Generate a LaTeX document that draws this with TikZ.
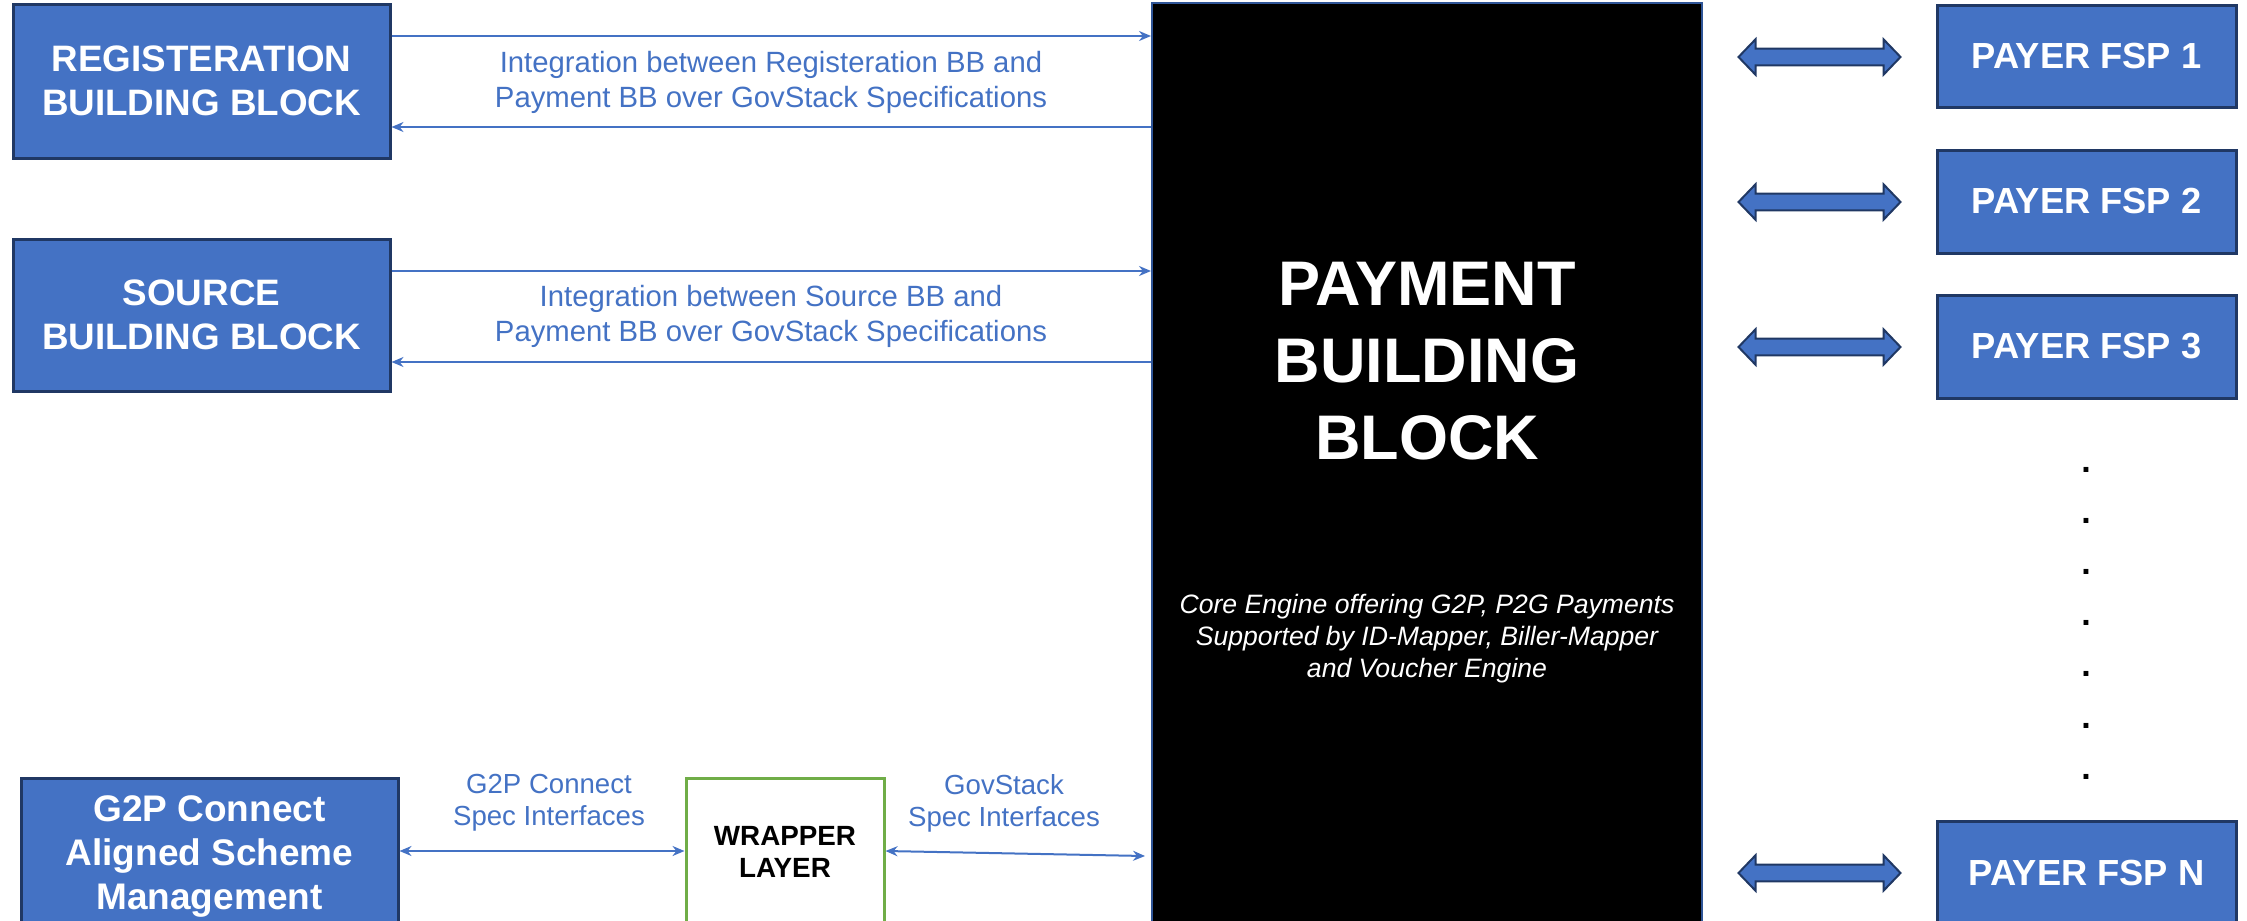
\documentclass[tikz,border=0pt]{standalone}
\usepackage{fontspec}
\setmainfont{Liberation Sans}
\usetikzlibrary{arrows.meta}
\definecolor{bbblue}{HTML}{4472C4}
\definecolor{bbdark}{HTML}{203864}
\definecolor{paybd}{HTML}{2F5597}
\definecolor{wrapgreen}{HTML}{70AD47}
\tikzset{
  bluebox/.style={draw=bbdark, line width=3pt, fill=bbblue, text=white, align=center, inner sep=0pt},
  bbfont/.style={font=\bfseries\fontsize{36.8}{44}\selectfont},
  fspfont/.style={font=\bfseries\fontsize{36.3}{42}\selectfont},
  lbl/.style={text=bbblue, align=center, inner sep=0pt, font=\fontsize{29.3}{35}\selectfont},
  slbl/.style={text=bbblue, align=center, inner sep=0pt, font=\fontsize{27.6}{32}\selectfont},
  conn/.style={draw=bbblue, line width=2pt},
  toR/.style={conn, -{Stealth[length=12pt,width=10pt]}},
  both/.style={conn, {Stealth[length=12pt,width=10pt]}-{Stealth[length=12pt,width=10pt]}},
  dotnode/.style={inner sep=0pt, font=\bfseries\fontsize{34}{34}\selectfont},
  dblarr/.pic={
    \draw[fill=bbblue, draw=bbdark, line width=2pt, line join=miter]
      (-81,0) -- (-64,-17.7) -- (-64,-8.3) -- (64,-8.3) -- (64,-17.7) -- (81,0)
      -- (64,17.7) -- (64,8.3) -- (-64,8.3) -- (-64,17.7) -- cycle;
  }
}
\begin{document}
\begin{tikzpicture}[x=1pt,y=-1pt]
\path[use as bounding box] (0,0) rectangle (2247,921);
\clip (0,0) rectangle (2247,921);

% central payment block
\node[draw=paybd, fill=black, line width=2pt, minimum width=550pt, minimum height=927pt, inner sep=0pt] (pay) at (1427,466.5) {};
\node[text=white, align=center, inner sep=0pt, font=\bfseries\fontsize{63}{77}\selectfont] (ptitle) at (1427,361) {PAYMENT\\BUILDING\\BLOCK};
\node[text=white, align=center, inner sep=0pt, font=\itshape\fontsize{26.6}{32}\selectfont] (psub) at (1427,639) {Core Engine offering G2P, P2G Payments\\Supported by ID-Mapper, Biller-Mapper\\and Voucher Engine};

% left building blocks
\node[bluebox, bbfont, minimum width=377pt, minimum height=154pt] (reg) at (201.5,81) {REGISTERATION\\BUILDING BLOCK};
\node[bluebox, bbfont, minimum width=377pt, minimum height=152pt] (src) at (201.5,315) {SOURCE\\BUILDING BLOCK};
\node[bluebox, font=\bfseries\fontsize{37}{44}\selectfont, minimum width=377pt, minimum height=150pt, text depth=0pt] (g2p) at (209.5,853) {G2P Connect\\Aligned Scheme\\Management};
\node[draw=wrapgreen, line width=3pt, fill=white, text=black, align=center, inner sep=0pt, font=\bfseries\fontsize{27.8}{32}\selectfont, minimum width=198pt, minimum height=148pt] (wrap) at (785,852) {WRAPPER\\LAYER};

% labels
\node[lbl] (lreg) at (771,82.5) {Integration between Registeration BB and\\Payment BB over GovStack Specifications};
\node[lbl] (lsrc) at (771,316) {Integration between Source BB and\\Payment BB over GovStack Specifications};
\node[slbl] (lg2p) at (549,803) {G2P Connect\\Spec Interfaces};
\node[slbl] (lgov) at (1004,803) {GovStack\\Spec Interfaces};

% connector levels
\coordinate (y1) at (0,36);
\coordinate (y2) at (0,127);
\coordinate (y3) at (0,271);
\coordinate (y4) at (0,362);
\coordinate (y5) at (0,851);
\coordinate (y6) at (0,856);
\coordinate (gend) at ([xshift=-6pt]pay.west |- y6);

\draw[toR] (reg.east |- y1) -- (pay.west |- y1);
\draw[toR] (pay.west |- y2) -- (reg.east |- y2);
\draw[toR] (src.east |- y3) -- (pay.west |- y3);
\draw[toR] (pay.west |- y4) -- (src.east |- y4);
\draw[both] (g2p.east |- y5) -- (wrap.west |- y5);
\draw[both] (wrap.east |- y5) -- (gend);

% payer FSPs
\node[bluebox, fspfont, minimum width=299pt, minimum height=102pt] (fsp1) at (2086.5,56) {PAYER FSP 1};
\node[bluebox, fspfont, minimum width=299pt, minimum height=103pt] (fsp2) at (2086.5,201.5) {PAYER FSP 2};
\node[bluebox, fspfont, minimum width=299pt, minimum height=103pt] (fsp3) at (2086.5,346.5) {PAYER FSP 3};
\node[bluebox, fspfont, minimum width=299pt, minimum height=104pt] (fspN) at (2086.5,873) {PAYER FSP N};

\pic (a1) at (1819.5,57) {dblarr};
\pic (a2) at (1819.5,202) {dblarr};
\pic (a3) at (1819.5,347) {dblarr};
\pic (aN) at (1819.5,873) {dblarr};

% ellipsis dots
\foreach \i/\yy in {1/470,2/521,3/572,4/623,5/674,6/726,7/777}
  \node[dotnode] (d\i) at (2086,\yy) {.};
\end{tikzpicture}
\end{document}
